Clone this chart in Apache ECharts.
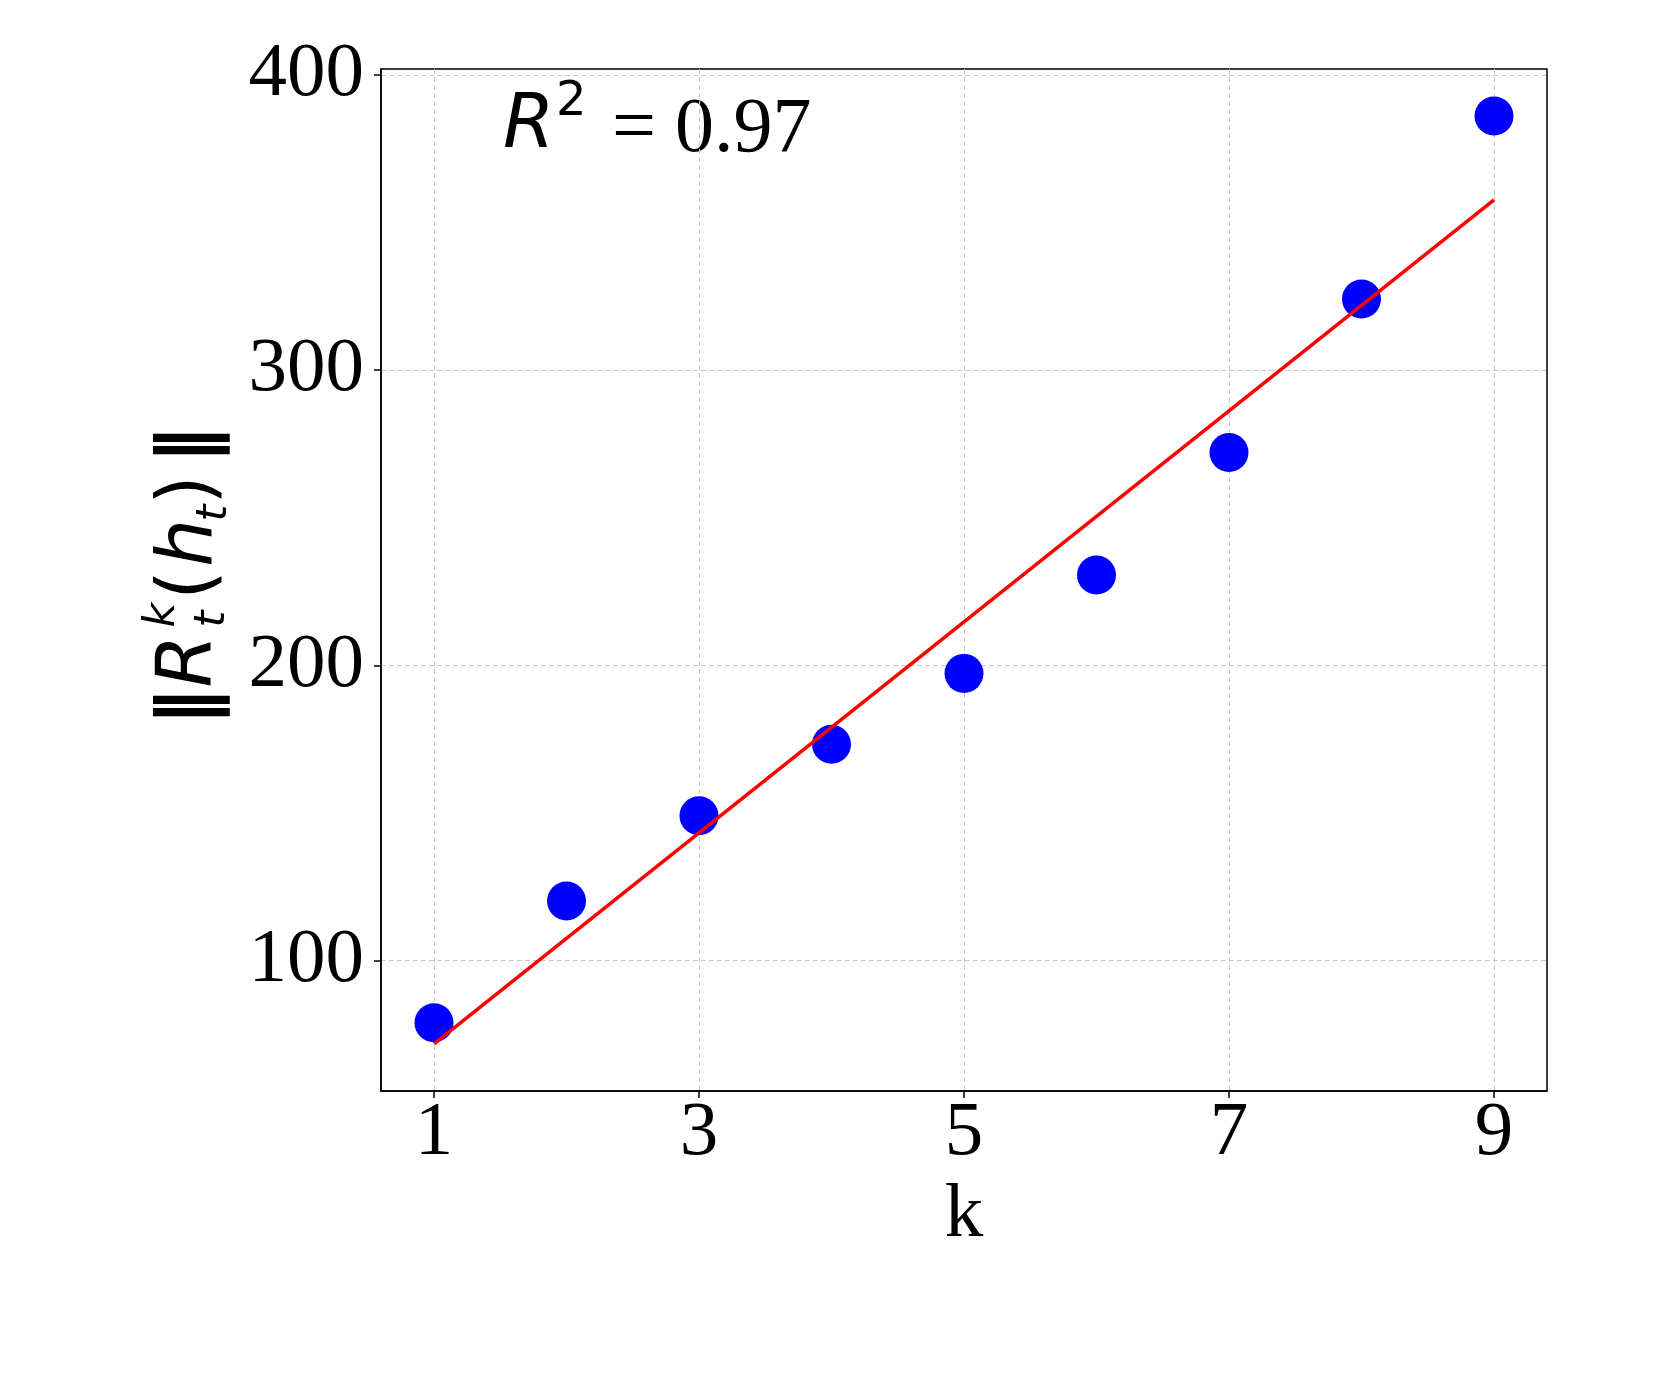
<!DOCTYPE html>
<html>
<head>
<meta charset="utf-8">
<script src="https://cdn.jsdelivr.net/npm/echarts@6/dist/echarts.min.js"></script>
<style>
html,body{margin:0;padding:0;background:#fff;}
#chart{width:1661px;height:1384px;}
</style>
</head>
<body>
<div id="chart"></div>
<script>
// ---- data ----
const kValues = [1, 2, 3, 4, 5, 6, 7, 8, 9];
const normValues = [79.0, 120.2, 149.1, 173.3, 197.3, 230.6, 272.1, 324.1, 386.1];
const fitK = [1, 9];
const fitValues = [71.8, 357.7];
const xTicks = [1, 3, 5, 7, 9];
const yTicks = [100, 200, 300, 400];
const annotation = '0.97';

const serif = '"Liberation Serif", "Times New Roman", serif';
const sans = '"DejaVu Sans", sans-serif';

const chart = echarts.init(document.getElementById('chart'), null, {renderer: 'canvas'});

function rot(text, x, y, size, italic, bold) {
  return {
    type: 'text', x: x, y: y, rotation: Math.PI / 2,
    style: {
      text: text, fill: '#000', align: 'center', verticalAlign: 'middle',
      font: (italic ? 'italic ' : '') + (bold ? 'bold ' : '') + size + 'px ' + sans
    }
  };
}

const option = {
  backgroundColor: '#fff',
  animation: false,
  grid: {
    left: 381, top: 69, width: 1166, height: 1022,
    show: true, borderColor: '#000', borderWidth: 1.5, backgroundColor: 'transparent'
  },
  xAxis: {
    type: 'value', min: 0.6, max: 9.4,
    name: 'k', nameLocation: 'middle', nameGap: 79,
    nameTextStyle: {fontFamily: serif, fontSize: 77, color: '#000', lineHeight: 77},
    axisLine: {show: true, lineStyle: {color: '#000', width: 1.5}},
    axisTick: {show: true, length: 7, lineStyle: {color: '#000', width: 1.5}, customValues: xTicks},
    axisLabel: {fontFamily: serif, fontSize: 77, color: '#000', margin: 4, lineHeight: 77, customValues: xTicks},
    splitLine: {show: true, lineStyle: {color: '#c8c8c8', width: 1, type: [5, 3]}}
  },
  yAxis: {
    type: 'value', min: 55.86, max: 402.0,
    axisLine: {show: true, lineStyle: {color: '#000', width: 1.5}},
    axisTick: {show: true, length: 7, lineStyle: {color: '#000', width: 1.5}, customValues: yTicks},
    axisLabel: {fontFamily: serif, fontSize: 77, color: '#000', margin: 17, customValues: yTicks},
    splitLine: {show: true, lineStyle: {color: '#c8c8c8', width: 1, type: [5, 3]}}
  },
  series: [
    {
      type: 'scatter', z: 3,
      data: kValues.map((k, i) => [k, normValues[i]]),
      symbol: 'circle', symbolSize: 39,
      itemStyle: {color: '#0000ff', opacity: 1}
    },
    {
      type: 'line', z: 4,
      data: fitK.map((k, i) => [k, fitValues[i]]),
      showSymbol: false, symbol: 'none',
      lineStyle: {color: '#ff0000', width: 3.5}
    }
  ],
  graphic: [
    // R^2 = 0.97 annotation
    {type: 'text', x: 503, y: 128, style: {text: 'R', font: 'italic 74px ' + sans, fill: '#000', align: 'left', verticalAlign: 'middle'}},
    {type: 'text', x: 556, y: 103, style: {text: '2', font: '48px ' + sans, fill: '#000', align: 'left', verticalAlign: 'middle'}},
    {type: 'text', x: 612, y: 131, style: {text: '=', font: '78px ' + serif, fill: '#000', align: 'left', verticalAlign: 'middle'}},
    {type: 'text', x: 675, y: 131, style: {text: annotation, font: '78px ' + serif, fill: '#000', align: 'left', verticalAlign: 'middle'}},
    // y-axis label ||R_t^k(h_t)||
    rot('\u2016', 191, 707, 76, false, true),
    rot('R', 191, 661, 76, true),
    rot('k', 163, 615, 43, true),
    rot('t', 213, 619, 43, true),
    rot('(', 191, 585, 76, false),
    rot('h', 191, 543, 76, true),
    rot('t', 215, 513, 43, true),
    rot(')', 191, 490, 76, false),
    rot('\u2016', 191, 445, 76, false, true)
  ]
};
chart.setOption(option);
</script>
</body>
</html>
